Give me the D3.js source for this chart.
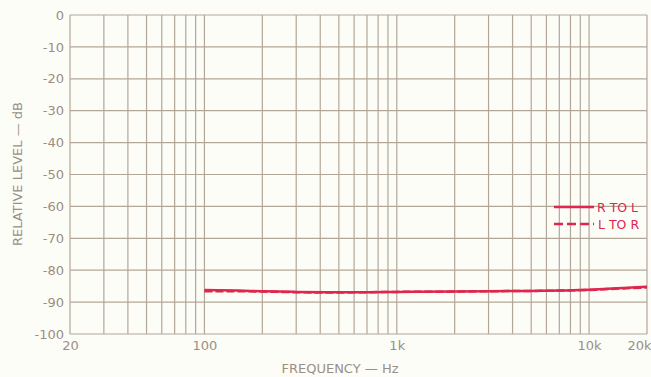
<!DOCTYPE html>
<html><head><meta charset="utf-8">
<script src="https://cdn.jsdelivr.net/npm/d3@7"></script>
<style>
html,body{margin:0;padding:0;background:#fdfdf8;}
svg{display:block;}
text{font-family:"DejaVu Sans","Liberation Sans",sans-serif;fill:#9a8f85;}
</style></head><body>
<svg id="c" width="651" height="377"></svg>
<script>
const freqs = [100, 150, 200, 300, 500, 700, 1000, 2000, 3000, 5000, 7000, 10000, 15000, 20000];
const rToL = [-86.2, -86.4, -86.6, -86.8, -86.9, -86.9, -86.8, -86.7, -86.6, -86.5, -86.4, -86.1, -85.6, -85.2];
const lToR = [-86.6, -86.6, -86.7, -86.9, -87.0, -86.9, -86.8, -86.7, -86.6, -86.5, -86.4, -86.2, -85.7, -85.4];
const yTicks = [0, -10, -20, -30, -40, -50, -60, -70, -80, -90, -100];
const xTickVals = [20, 100, 1000, 10000, 20000];
const xTickLabels = ["20", "100", "1k", "10k", "20k"];
const gridFreqs = [20,30,40,50,60,70,80,90,100,200,300,400,500,600,700,800,900,1000,2000,3000,4000,5000,6000,7000,8000,9000,10000,20000];
const seriesNames = ["R TO L", "L TO R"];

const svg = d3.select("#c");
const L = 70, R = 647, T = 15, B = 334;
const x = d3.scaleLog().domain([20, 20000]).range([L, R]);
const y = d3.scaleLinear().domain([-100, 0]).range([B, T]);
const gridCol = "#b3a698";

const g = svg.append("g");
g.selectAll("line.v").data(gridFreqs).enter().append("line")
  .attr("x1", d => x(d)).attr("x2", d => x(d)).attr("y1", T).attr("y2", B)
  .attr("stroke", gridCol).attr("stroke-width", 1.2);
g.selectAll("line.h").data(yTicks).enter().append("line")
  .attr("x1", L).attr("x2", R).attr("y1", d => y(d)).attr("y2", d => y(d))
  .attr("stroke", gridCol).attr("stroke-width", 1.2);

const yAxis = d3.axisLeft(y).tickValues(yTicks).tickSize(0).tickPadding(6)
  .tickFormat(d => d === 0 ? "0" : "-" + Math.abs(d));
const ya = svg.append("g").attr("transform", `translate(${L},0)`).call(yAxis);
ya.select(".domain").remove();
ya.selectAll("text").attr("font-size", 13).style("fill", "#9a8f85");

const xAxis = d3.axisBottom(x).tickValues(xTickVals).tickSize(0).tickPadding(7)
  .tickFormat((d, i) => xTickLabels[i]);
const xa = svg.append("g").attr("transform", `translate(0,${B})`).call(xAxis);
xa.select(".domain").remove();
xa.selectAll("text").attr("font-size", 13).style("fill", "#9a8f85")
  .attr("text-anchor", (d) => d === 20000 ? "end" : "middle")
  .attr("dx", (d) => d === 20000 ? 4 : 0);

svg.append("text").attr("x", 340).attr("y", 373).attr("text-anchor", "middle")
  .attr("font-size", 13).text("FREQUENCY — Hz");
svg.append("text").attr("transform", "translate(22,174) rotate(-90)")
  .attr("text-anchor", "middle").attr("font-size", 13).text("RELATIVE LEVEL — dB");

const line = d3.line().x(d => x(d[0])).y(d => y(d[1])).curve(d3.curveMonotoneX);
const red = "#e0254f";
svg.append("path").datum(freqs.map((f, i) => [f, lToR[i]]))
  .attr("d", line).attr("fill", "none").attr("stroke", "#d8284a").attr("stroke-width", 2.5)
  .attr("stroke-dasharray", "8,3");
svg.append("path").datum(freqs.map((f, i) => [f, rToL[i]]))
  .attr("d", line).attr("fill", "none").attr("stroke", red).attr("stroke-width", 2.5);

const leg = svg.append("g");
seriesNames.forEach((n, i) => {
  const yy = 207 + i * 17;
  leg.append("line").attr("x1", 554).attr("x2", 594).attr("y1", yy).attr("y2", yy)
    .attr("stroke", red).attr("stroke-width", 2.5)
    .attr("stroke-dasharray", i === 1 ? "9,4" : null);
  leg.append("text").attr("x", i === 0 ? 597 : 598).attr("y", yy + 5)
    .attr("font-size", 12.5).style("fill", red).text(n);
});
</script>
</body></html>
